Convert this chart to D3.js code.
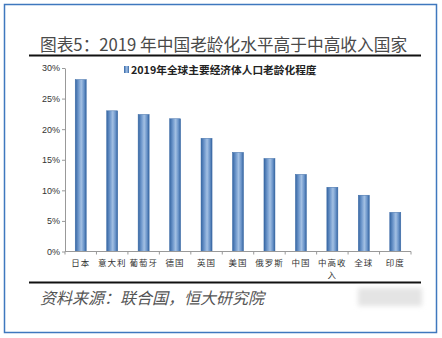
<!DOCTYPE html>
<html><head><meta charset="utf-8">
<script src="https://cdn.jsdelivr.net/npm/d3@7/dist/d3.min.js"></script>
<style>
html,body{margin:0;padding:0;background:#fff;}
svg{display:block;}
</style></head>
<body>
<svg id="c" width="442" height="338"></svg>
<script>
const title = "图表5：2019 年中国老龄化水平高于中高收入国家";
const legendLabel = "2019年全球主要经济体人口老龄化程度";
const source = "资料来源：联合国，恒大研究院";
const categories = ["日本","意大利","葡萄牙","德国","英国","美国","俄罗斯","中国","中高收入","全球","印度"];
const values = [0.281, 0.230, 0.224, 0.217, 0.185, 0.162, 0.152, 0.126, 0.105, 0.092, 0.064];
const yTicks = [0, 0.05, 0.10, 0.15, 0.20, 0.25, 0.30];

const svg = d3.select("#c");
const cjk = "'Noto Sans CJK SC','Noto Sans',sans-serif";

// frame
svg.append("rect").attr("x",4.5).attr("y",4.5).attr("width",432).attr("height",328)
  .attr("fill","#fff").attr("stroke","#3f78be").attr("stroke-width",1.5);

// title
svg.append("text").attr("x",40).attr("y",51).text(title)
  .attr("font-family",cjk).attr("font-size",16.7).attr("fill","#4a4a4a");
svg.append("line").attr("x1",29).attr("x2",421).attr("y1",55.5).attr("y2",55.5)
  .attr("stroke","#111").attr("stroke-width",2.2);

// gradient for bars
const defs = svg.append("defs");
const g = defs.append("linearGradient").attr("id","bg").attr("x1","0%").attr("x2","100%").attr("y1","0").attr("y2","0");
[[0,"#3565a2"],[0.3,"#6f98cc"],[0.55,"#a3c0e3"],[0.8,"#6a94c9"],[1,"#34639f"]].forEach(([o,c])=>g.append("stop").attr("offset",o).attr("stop-color",c));
const blur = defs.append("filter").attr("id","blur").attr("x","-20%").attr("y","-50%").attr("width","140%").attr("height","200%");
blur.append("feGaussianBlur").attr("stdDeviation",2.5);

const x = d3.scaleBand().domain(categories).range([65,411]).paddingInner(0.65).paddingOuter(0.325);
const y = d3.scaleLinear().domain([0,0.30]).range([251.5,68]);

// y axis
const ya = svg.append("g").attr("transform","translate(65,0)")
  .call(d3.axisLeft(y).tickValues(yTicks).tickFormat(d3.format(".0%")).tickSize(3).tickSizeOuter(0));
ya.select(".domain").attr("stroke","#999");
ya.selectAll(".tick line").attr("stroke","#999");
ya.selectAll(".tick text").attr("font-family","'Liberation Sans',Arial,sans-serif").attr("font-size",9).attr("fill","#333").attr("x",-5);

// bars
svg.append("g").selectAll("rect").data(categories).join("rect")
  .attr("x",d=>x(d)).attr("width",x.bandwidth())
  .attr("y",(d,i)=>y(values[i])).attr("height",(d,i)=>y(0)-y(values[i]))
  .attr("fill","url(#bg)").attr("stroke","#3a6aa6").attr("stroke-width",0.5);

// x axis
const xa = svg.append("g").attr("transform",`translate(0,${y(0)})`);
xa.append("line").attr("x1",x.range()[0]).attr("x2",x.range()[1]).attr("stroke","#999");
const bounds = categories.map(d=>x(d)+x.bandwidth()/2+x.step()/2);
xa.selectAll(".bt").data([x(categories[0])+x.bandwidth()/2-x.step()/2].concat(bounds)).join("line")
  .attr("x1",d=>d).attr("x2",d=>d).attr("y1",0).attr("y2",3).attr("stroke","#999");
const lbl = xa.selectAll(".lbl").data(categories).join("text")
  .attr("text-anchor","middle").attr("font-family",cjk).attr("font-size",8.5)
  .attr("fill","#333").attr("letter-spacing",1);
lbl.each(function(d){
  const t = d3.select(this);
  const lines = d.length>3 ? [d.slice(0,3), d.slice(3)] : [d];
  lines.forEach((s,k)=>t.append("tspan").attr("x",x(d)+x.bandwidth()/2).attr("y",14+k*12).text(s));
});

// legend
svg.append("rect").attr("x",124).attr("y",66).attr("width",5).attr("height",7).attr("fill","url(#bg)");
svg.append("text").attr("x",131).attr("y",74).text(legendLabel)
  .attr("font-family",cjk).attr("font-size",10.7).attr("font-weight","bold").attr("fill","#222");

// bottom rule and source
svg.append("line").attr("x1",29).attr("x2",421).attr("y1",282.5).attr("y2",282.5)
  .attr("stroke","#111").attr("stroke-width",2.2);
svg.append("text").attr("x",40).attr("y",304).text(source)
  .attr("font-family",cjk).attr("font-size",16).attr("font-style","italic")
  .attr("fill","#555");

// blurred watermark
svg.append("rect").attr("x",358).attr("y",288).attr("width",64).attr("height",18)
  .attr("fill","#e4e4e4").attr("filter","url(#blur)");
</script>
</body></html>
